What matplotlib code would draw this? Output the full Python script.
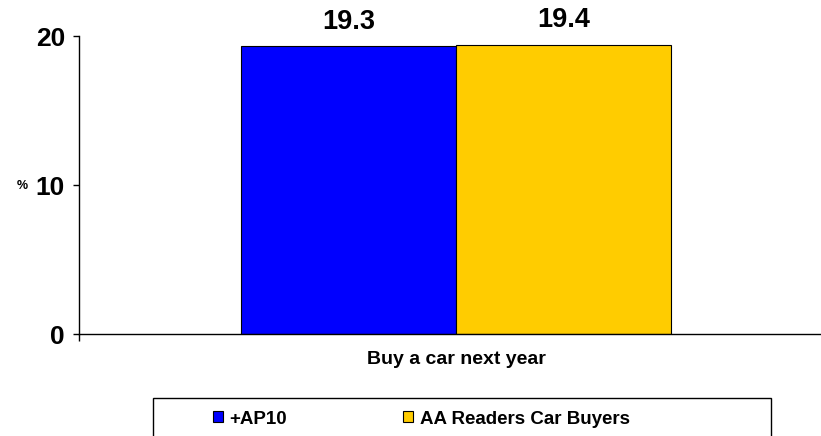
import matplotlib.pyplot as plt
from matplotlib.patches import Rectangle

plt.rcParams["font.family"] = ["Liberation Sans", "DejaVu Sans"]
plt.rcParams["font.weight"] = "bold"

categories = ["Buy a car next year"]
series_names = ["+AP10", "AA Readers Car Buyers"]
series_values = [[19.3], [19.4]]
series_colors = ["#0000FF", "#FFCC00"]
y_ticks = [0, 10, 20]

W, H = 821, 436
fig = plt.figure(figsize=(W / 100, H / 100), dpi=100)
ax = fig.add_axes([79 / W, 1 - 334 / H, 1 - 79 / W, (334 - 36) / H])

bar_w = 0.35
offsets = [-bar_w / 2, bar_w / 2]
for name, vals, color, off in zip(series_names, series_values, series_colors, offsets):
    xs = [i + off for i in range(len(categories))]
    ax.bar(xs, vals, width=bar_w, color=color, edgecolor="black", linewidth=0.8, label=name)
    for x, v in zip(xs, vals):
        ax.text(x, v + 0.8, f"{v:.1f}", ha="center", va="bottom", fontsize=19.5, fontweight="bold")

ax.set_xlim(-0.614, 0.594)
ax.set_ylim(0, 20)
ax.set_yticks(y_ticks)
ax.set_yticklabels([str(t) for t in y_ticks], fontsize=19, fontweight="bold")
ax.tick_params(axis="y", length=4.5, width=1, pad=5.5)
ax.set_xticks(range(len(categories)))
ax.set_xticklabels(categories, fontsize=14, fontweight="bold")
ax.tick_params(axis="x", length=0, pad=12)
ax.set_xticks([-0.614], minor=True)
ax.tick_params(axis="x", which="minor", length=5, width=1)

for side in ["top", "right"]:
    ax.spines[side].set_visible(False)
for side in ["left", "bottom"]:
    ax.spines[side].set_linewidth(1.0)

fig.text(22 / W, 1 - 186 / H, "%", fontsize=9, fontweight="bold", ha="center", va="center")

# legend frame runs off the bottom of the picture
fig.patches.append(Rectangle((153 / W, -0.05), (771 - 153) / W, 0.05 + 1 - 398 / H,
                             transform=fig.transFigure, fill=False, edgecolor="black",
                             linewidth=1.0))
leg_fs = 13.5
handles, labels = ax.get_legend_handles_labels()
fig.legend(handles, labels, loc="center left", bbox_to_anchor=(213 / W, 1 - 419 / H),
           ncol=2, frameon=False, fontsize=leg_fs,
           handlelength=10 / (leg_fs * 100 / 72), handleheight=10 / (leg_fs * 100 / 72),
           handletextpad=0.35, columnspacing=6.2, borderpad=0, borderaxespad=0)

fig.savefig("out.png", dpi=100)
